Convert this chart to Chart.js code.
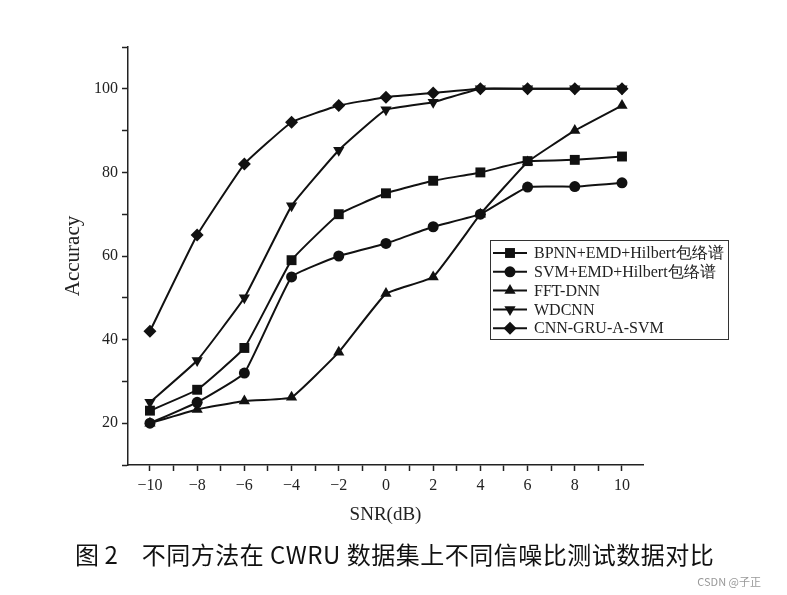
<!DOCTYPE html>
<html>
<head>
<meta charset="utf-8">
<script src="https://cdn.jsdelivr.net/npm/chart.js@4.4.1/dist/chart.umd.min.js"></script>
<style>
  html, body { margin: 0; padding: 0; background: #fff; }
  #wrap { position: relative; width: 787px; height: 595px; }
  #caption { position: absolute; left: 75px; top: 536px; font: 24px "Noto Sans CJK SC", sans-serif; white-space: pre; color: #111; }
  #caption .t { margin-left: 24px; letter-spacing: 0.5px; }
  #mark { position: absolute; right: 26px; top: 573px; font: 11px "Noto Sans CJK SC", sans-serif; color: #999; }
</style>
</head>
<body>
<div id="wrap">
  <canvas id="chart" width="787" height="595"></canvas>
  <div id="caption">图 2<span class="t">不同方法在 CWRU 数据集上不同信噪比测试数据对比</span></div>
  <div id="mark">CSDN @子正</div>
</div>
<script>
// SNR values (dB)
const snr = [-10, -8, -6, -4, -2, 0, 2, 4, 6, 8, 10];
// tick positions on the x axis (labels on the even ones)
const xTicks = [-10, -9, -8, -7, -6, -5, -4, -3, -2, -1, 0, 1, 2, 3, 4, 5, 6, 7, 8, 9, 10];

// accuracy per method
const bpnn   = [23, 28, 38, 59, 70, 75, 78, 80, 82.7, 83, 83.8];
const svm    = [20, 25, 32, 55, 60, 63, 67, 70, 76.5, 76.6, 77.5];
const fftDnn = [20, 23.3, 25.3, 26.2, 37, 51, 55, 70, 82.5, 90, 96];
const wdcnn  = [25, 35, 50, 72, 85.3, 95, 96.8, 100, 100, 100, 100];
const cnnGru = [42, 65, 82, 92, 96, 98, 99, 100, 100, 100, 100];

const names = ['BPNN+EMD+Hilbert包络谱', 'SVM+EMD+Hilbert包络谱', 'FFT-DNN', 'WDCNN', 'CNN-GRU-A-SVM'];
const styles = ['rect', 'circle', 'triangle', 'triangle', 'rectRot'];
const radii = [7, 5.5, 6.5, 6.5, 6.5];
const rotations = [0, 0, 0, 180, 0];
const values = [bpnn, svm, fftDnn, wdcnn, cnnGru];

const ink = '#111';
const serif = "'Liberation Serif', 'Times New Roman', serif";

// draw a marker for the legend (same shapes as the chart's points)
function marker(ctx, style, rot, r, x, y) {
  ctx.beginPath();
  if (style === 'rect') {
    const s = r * Math.SQRT1_2;
    ctx.rect(x - s, y - s, 2 * s, 2 * s);
  } else if (style === 'circle') {
    ctx.arc(x, y, r, 0, Math.PI * 2);
  } else if (style === 'rectRot') {
    ctx.moveTo(x, y - r); ctx.lineTo(x + r, y); ctx.lineTo(x, y + r); ctx.lineTo(x - r, y);
  } else {
    const d = rot ? -1 : 1;
    const h = r * 1.5, w = r * Math.sqrt(3) / 2;
    ctx.moveTo(x, y - d * r);
    ctx.lineTo(x + w, y - d * (r - h));
    ctx.lineTo(x - w, y - d * (r - h));
  }
  ctx.closePath();
  ctx.fill();
}

const boxLegend = {
  id: 'boxLegend',
  afterDraw(chart) {
    const ctx = chart.ctx;
    const left = 490, top = 240, w = 238, rowH = 18.8;
    ctx.save();
    ctx.strokeStyle = '#333';
    ctx.lineWidth = 1;
    ctx.strokeRect(left + 0.5, top + 0.5, w, rowH * 5 + 5);
    ctx.font = '16px ' + serif;
    ctx.textBaseline = 'middle';
    chart.data.datasets.forEach((ds, i) => {
      const y = top + 13 + i * rowH;
      ctx.strokeStyle = ink;
      ctx.fillStyle = ink;
      ctx.lineWidth = 2;
      ctx.beginPath();
      ctx.moveTo(left + 3, y);
      ctx.lineTo(left + 37, y);
      ctx.stroke();
      marker(ctx, styles[i], rotations[i], radii[i], left + 20, y);
      ctx.fillStyle = '#222';
      ctx.fillText(ds.label, left + 44, y + 1);
    });
    ctx.restore();
  }
};

const minusSign = v => String(v).replace('-', '\u2212');

new Chart(document.getElementById('chart'), {
  type: 'line',
  data: {
    datasets: values.map((v, i) => ({
      label: names[i],
      data: snr.map((x, k) => ({ x: x, y: v[k] })),
      borderColor: ink,
      backgroundColor: ink,
      borderWidth: 2,
      pointStyle: styles[i],
      pointRotation: rotations[i],
      pointRadius: radii[i],
      pointBorderWidth: 0,
      tension: 0.1,
      fill: false
    }))
  },
  options: {
    responsive: false,
    animation: false,
    layout: { padding: { left: 57, right: 144, top: 47, bottom: 65 } },
    plugins: {
      legend: { display: false },
      tooltip: { enabled: false }
    },
    scales: {
      x: {
        type: 'linear',
        min: -10.93,
        max: 10.89,
        afterBuildTicks: axis => { axis.ticks = xTicks.map(v => ({ value: v })); },
        afterFit: axis => { axis.height = 65; },
        ticks: {
          autoSkip: false,
          maxRotation: 0,
          padding: 5,
          color: '#222',
          font: { family: serif, size: 16 },
          callback: v => (v % 2 === 0 ? minusSign(v) : '')
        },
        grid: { drawOnChartArea: false, drawTicks: true, tickLength: 6, color: '#222', tickWidth: 1.5 },
        border: { display: true, color: '#222', width: 1.5 },
        title: { display: true, text: 'SNR(dB)', color: '#222', font: { family: serif, size: 19 }, padding: { top: 0, bottom: 4 } }
      },
      y: {
        min: 10,
        max: 110,
        afterFit: axis => { axis.width = 71; },
        ticks: {
          stepSize: 10,
          autoSkip: false,
          padding: 4,
          color: '#222',
          font: { family: serif, size: 16 },
          callback: v => (v % 20 === 0 && v <= 100 ? v : '')
        },
        grid: { drawOnChartArea: false, drawTicks: true, tickLength: 6, color: '#222', tickWidth: 1.5 },
        border: { display: true, color: '#222', width: 1.5 },
        title: { display: true, text: 'Accuracy', color: '#222', font: { family: serif, size: 21 }, padding: { top: 4, bottom: 0 } }
      }
    }
  },
  plugins: [boxLegend]
});
</script>
</body>
</html>
